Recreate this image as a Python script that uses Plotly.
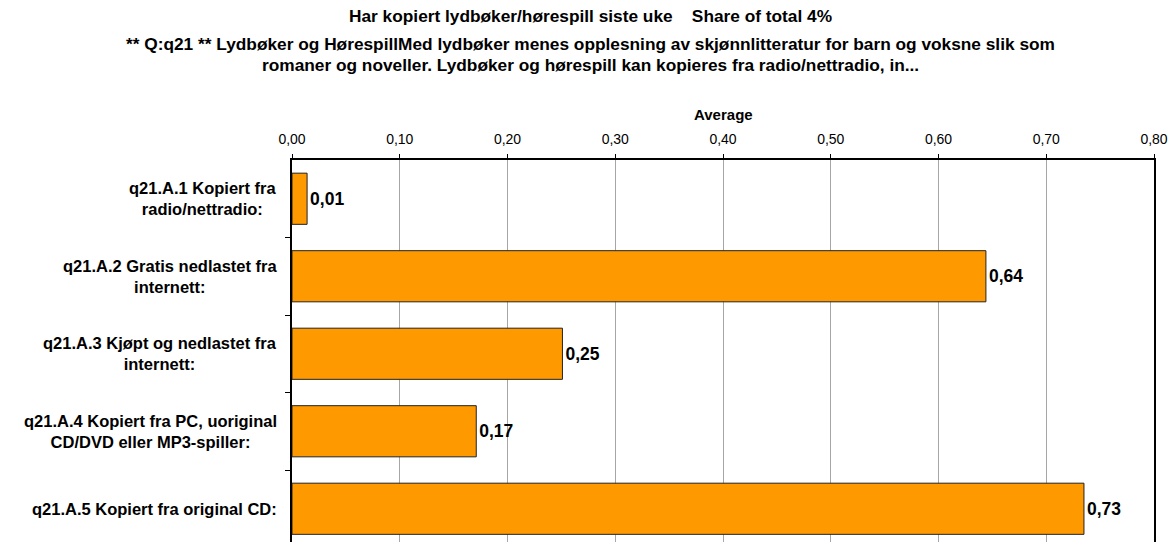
import plotly.graph_objects as go

categories = [
    "q21.A.1 Kopiert fra<br>radio/nettradio:",
    "q21.A.2 Gratis nedlastet fra<br>internett:",
    "q21.A.3 Kjøpt og nedlastet fra<br>internett:",
    "q21.A.4 Kopiert fra PC, uoriginal<br>CD/DVD eller MP3-spiller:",
    "q21.A.5 Kopiert fra original CD:",
]
values = [0.014, 0.644, 0.251, 0.171, 0.735]
tick_vals = [0.0, 0.1, 0.2, 0.3, 0.4, 0.5, 0.6, 0.7, 0.8]
title_lines = [
    "Har kopiert lydbøker/hørespill siste uke    Share of total 4%",
    "** Q:q21 ** Lydbøker og HørespillMed lydbøker menes opplesning av skjønnlitteratur for barn og voksne slik som",
    "romaner og noveller. Lydbøker og hørespill kan kopieres fra radio/nettradio, in...",
]
title_y_px = [16, 44, 65]

W, H = 1174, 542
L, R, T, B = 292, 20, 160, 0
plot_h = H - T - B
plot_w = W - L - R
cat_px = 77.5
bottom_idx = -0.5 + plot_h / cat_px

font_family = "Liberation Sans, Arial, sans-serif"

fig = go.Figure()
fig.add_trace(go.Bar(
    y=list(range(len(categories))),
    x=values,
    orientation="h",
    marker=dict(color="#FF9900", line=dict(color="#222222", width=1)),
    width=0.66,
    text=[f"{v:.2f}".replace(".", ",") for v in values],
    textposition="outside",
    textfont=dict(family=font_family, size=17.5, color="black", weight="bold"),
    cliponaxis=False,
    hoverinfo="skip",
))

annotations = []
for line, py in zip(title_lines, title_y_px):
    annotations.append(dict(
        text=f"<b>{line}</b>", xref="paper", yref="paper",
        x=(590 - L) / plot_w, y=(H - py) / plot_h, xanchor="center", yanchor="middle",
        showarrow=False, font=dict(family=font_family, size=17.3, color="black"),
    ))
annotations.append(dict(
    text="<b>Average</b>", xref="paper", yref="paper",
    x=(723 - L) / plot_w, y=(H - 114) / plot_h, xanchor="center", yanchor="middle",
    showarrow=False, font=dict(family=font_family, size=15, color="black"),
))
for i, c in enumerate(categories):
    annotations.append(dict(
        text=f"<b>{c}</b>", xref="paper", yref="y",
        x=(279 - L) / plot_w, y=i, xanchor="right", yanchor="middle", align="center",
        showarrow=False, font=dict(family=font_family, size=16.5, color="black"),
    ))

fig.update_layout(
    width=W, height=H,
    margin=dict(l=L, r=R, t=T, b=B, pad=0),
    paper_bgcolor="white", plot_bgcolor="white",
    separators=", ",
    showlegend=False,
    annotations=annotations,
    font=dict(family=font_family, color="black"),
    xaxis=dict(
        side="top", range=[0, 0.8], tickvals=tick_vals, tickformat=".2f",
        showgrid=True, gridcolor="#a6a6a6", gridwidth=1,
        showline=True, linecolor="black", linewidth=1.5,
        ticks="outside", ticklen=4, tickcolor="black",
        ticklabelstandoff=5,
        tickfont=dict(family=font_family, size=14, color="black"),
        zeroline=False, fixedrange=True,
    ),
    yaxis=dict(
        range=[bottom_idx, -0.5],
        tickvals=[i - 0.5 for i in range(1, len(categories))],
        showticklabels=False,
        ticks="outside", ticklen=5, tickcolor="black",
        showgrid=False, zeroline=False,
        showline=True, linecolor="black", linewidth=1.5, mirror=True,
        fixedrange=True,
    ),
)

fig.write_html(
    "out.html",
    config={"displayModeBar": False},
    post_script="document.body.style.margin='0';document.body.style.overflow='hidden';",
)
